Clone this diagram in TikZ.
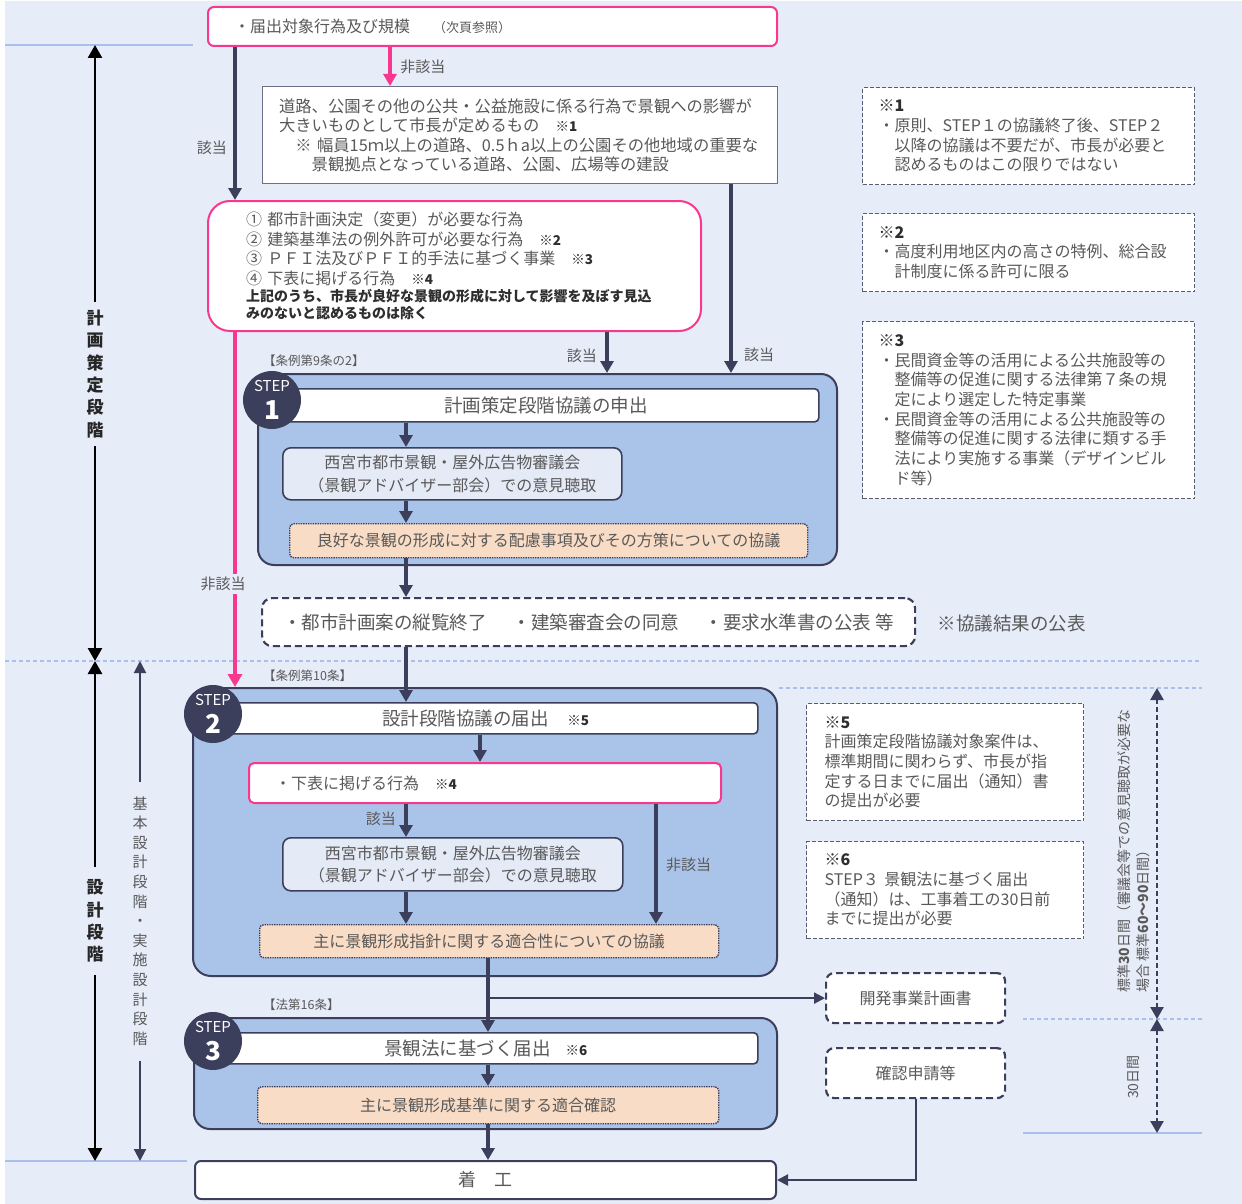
\documentclass[tikz,border=0pt]{standalone}
\usepackage{fontspec}
\setmainfont{Noto Sans CJK JP}
\usetikzlibrary{arrows.meta,positioning,calc}
\definecolor{pagebg}{HTML}{E6ECF8}
\definecolor{stepfill}{HTML}{AAC4E9}
\definecolor{navy}{HTML}{3B3F5C}
\definecolor{hotpink}{HTML}{F8388F}
\definecolor{peach}{HTML}{F9DCC5}
\definecolor{palefill}{HTML}{E4EAF6}
\definecolor{txtgray}{HTML}{595959}
\definecolor{darktext}{HTML}{2E2E2E}
\definecolor{guideblue}{HTML}{A9C1EA}
\newcommand{\fsz}[2]{\fontsize{#1}{#2}\selectfont}
\newcommand{\komeji}[1]{{\color{darktext}\fsz{13.5}{15}※\textbf{#1}}}
\newcommand{\komehead}[1]{{\color{darktext}※\textbf{#1}}}
\newcommand{\stepmark}[1]{{\fsz{15}{15}STEP}\\[8pt]{\bfseries\fsz{26}{26}#1}}
\tikzset{
  pinkbox/.style={draw=hotpink, line width=2pt, fill=white, rounded corners=6pt,
    text=txtgray, font=\fsz{16}{19.5}},
  plainbox/.style={draw=navy!75, line width=1.2pt, fill=white, text=txtgray,
    font=\fsz{16.3}{19.5}},
  stepbox/.style={draw=navy, line width=2pt, fill=stepfill, rounded corners=16pt},
  titlebox/.style={draw=navy, line width=1.6pt, fill=white, rounded corners=4pt,
    text=txtgray, font=\fsz{18.5}{20}},
  councilbox/.style={draw=navy, line width=1.6pt, fill=palefill, rounded corners=8pt,
    text=txtgray, align=center, font=\fsz{16}{22.5}},
  peachbox/.style={draw=navy, line width=1.4pt, densely dotted, fill=peach,
    rounded corners=4pt, text=txtgray, font=\fsz{16}{20}},
  stepdot/.style={circle, fill=navy, text=white, minimum size=58pt, inner sep=0pt,
    align=center},
  pubbox/.style={draw=navy, line width=2.2pt, dash pattern=on 7pt off 4pt, fill=white,
    rounded corners=10pt, text=txtgray, font=\fsz{18.5}{20}},
  docbox/.style={draw=navy, line width=2.2pt, dash pattern=on 7pt off 4pt, fill=white,
    rounded corners=8pt, text=txtgray, font=\fsz{16}{20}},
  notebox/.style={draw=navy!85, line width=1.3pt, dash pattern=on 4pt off 2pt,
    fill=white, text=txtgray, align=left, font=\fsz{16}{19.7}, anchor=north west},
  lawtag/.style={text=txtgray, font=\fsz{12.5}{14}, inner sep=0pt},
  lbl/.style={text=txtgray, font=\fsz{15}{17}},
  arr/.style={-{Triangle[length=12pt,width=13pt]}, line width=3.6pt, draw=navy},
  pinkarr/.style={arr, draw=hotpink, line width=4pt},
  pinkline/.style={-{Triangle[length=13pt,width=14pt]}, line width=4pt, draw=hotpink},
  thinarr/.style={-{Triangle[length=11pt,width=11pt]}, line width=2.2pt, draw=navy},
  stagearr/.style={{Triangle[length=13pt,width=14pt]}-{Triangle[length=13pt,width=14pt]},
    line width=2.6pt, draw=black},
  subarr/.style={{Triangle[length=12pt,width=12pt]}-{Triangle[length=12pt,width=12pt]},
    line width=2pt, draw=navy},
  spanarr/.style={{Triangle[length=12pt,width=13pt]}-{Triangle[length=12pt,width=13pt]},
    line width=2.4pt, draw=navy, dash pattern=on 5pt off 3pt},
  stagelbl/.style={fill=pagebg, text=black!85, font=\bfseries\fsz{17}{22.4},
    align=center, inner xsep=2pt},
  sublbl/.style={fill=pagebg, text=txtgray, font=\fsz{15}{19.6}, align=center,
    inner xsep=2pt},
  spanlbl/.style={text=txtgray, font=\fsz{14}{19}, align=left, inner sep=0pt},
  guide/.style={draw=guideblue, line width=1.5pt},
  guidedash/.style={guide, dash pattern=on 4pt off 3pt}
}
\begin{document}
\begin{tikzpicture}[x=1pt,y=-1pt]
  % page
  \fill[white] (0,0) rectangle (1242,1204);
  \fill[pagebg] (5,1) rectangle (1242,1204);
  \useasboundingbox (0,0) rectangle (1242,1204);
  \draw[guide] (5,45) -- (193,45);
  \draw[guidedash] (5,661) -- (1202,661);
  \draw[guidedash] (779,688) -- (1202,688);
  \draw[guide] (5,1161) -- (187,1161);
  \draw[guidedash] (1023,1019) -- (1202,1019);
  \draw[guide] (1023,1133) -- (1202,1133);

  % columns of the connectors
  \coordinate (colA) at (235,0);
  \coordinate (colB) at (390,0);
  \coordinate (colC) at (406,0);
  \coordinate (colD) at (480,0);
  \coordinate (colE) at (488,0);
  \coordinate (colF) at (607,0);
  \coordinate (colG) at (656,0);
  \coordinate (colH) at (731,0);

  % entry
  \node[pinkbox, anchor=north west, minimum width=569pt, minimum height=39pt,
    text width=517pt, inner xsep=26pt, align=left] (target) at (207,6)
    {・届出対象行為及び規模\hspace{23pt}{\fsz{13}{15}（次頁参照）}};
  \node[plainbox, anchor=north west, minimum width=515pt, minimum height=97pt,
    text width=482pt, inner xsep=16.5pt, align=left] (public) at (262,86)
    {道路、公園その他の公共・公益施設に係る行為で景観への影響が\\
     大きいものとして市長が定めるもの　\komeji{1}\\
     \hspace*{1em}※~幅員15ｍ以上の道路、0.5ｈa以上の公園その他地域の重要な\\
     \hspace*{2em}景観拠点となっている道路、公園、広場等の建設};
  \node[pinkbox, rounded corners=22pt, anchor=north west, minimum width=493pt,
    minimum height=130pt, text width=417pt, inner xsep=38pt, align=left] (kinds) at (207,200)
    {①~都市計画決定（変更）が必要な行為\\
     ②~建築基準法の例外許可が必要な行為　\komeji{2}\\
     ③~ＰＦＩ法及びＰＦＩ的手法に基づく事業　\komeji{3}\\
     ④~下表に掲げる行為　\komeji{4}\\[-2pt]
     {\bfseries\color{darktext}\fsz{14}{17}上記のうち、市長が良好な景観の形成に対して影響を及ぼす見込}\\[-3pt]
     {\bfseries\color{darktext}\fsz{14}{17}みのないと認めるものは除く}};

  % STEP 1
  \node[stepbox, anchor=north west, minimum width=579pt, minimum height=191pt] (step1) at (257,373) {};
  \node[titlebox, anchor=north west, minimum width=546pt, minimum height=33pt] (title1) at (272,388)
    {計画策定段階協議の申出};
  \node[stepdot] (dot1) at (272,400) {\stepmark{1}};
  \node[councilbox, anchor=north west, minimum width=339pt, minimum height=52pt] (council1) at (282,447)
    {西宮市都市景観・屋外広告物審議会\\（景観アドバイザー部会）での意見聴取};
  \node[peachbox, anchor=north west, minimum width=518pt, minimum height=34pt] (consult1) at (289,523)
    {良好な景観の形成に対する配慮事項及びその方策についての協議};
  \node[lawtag, anchor=west] (law1) at (263,361) {【条例第9条の2】};

  \node[pubbox, anchor=north west, minimum width=653pt, minimum height=48pt] (publish) at (261,597)
    {・都市計画案の縦覧終了\hspace{1.4em}・建築審査会の同意\hspace{1.4em}・要求水準書の公表 等};
  \node[lbl, font=\fsz{18.5}{20}, anchor=west] (pubnote) at (934,624) {※協議結果の公表};

  % STEP 2
  \node[stepbox, rounded corners=18pt, anchor=north west, minimum width=584pt, minimum height=288pt] (step2) at (192,687) {};
  \node[titlebox, anchor=north west, minimum width=544pt, minimum height=31pt] (title2) at (213,702)
    {設計段階協議の届出\hspace{1em}\komeji{5}};
  \node[stepdot] (dot2) at (213,714) {\stepmark{2}};
  \node[pinkbox, rounded corners=5pt, anchor=north west, minimum width=472pt, minimum height=40pt,
    text width=420pt, inner xsep=26pt, align=left] (listed) at (248,762)
    {・下表に掲げる行為\hspace{1em}\komeji{4}};
  \node[councilbox, anchor=north west, minimum width=340pt, minimum height=53pt] (council2) at (282,837)
    {西宮市都市景観・屋外広告物審議会\\（景観アドバイザー部会）での意見聴取};
  \node[peachbox, anchor=north west, minimum width=459pt, minimum height=33pt] (consult2) at (259,924)
    {主に景観形成指針に関する適合性についての協議};
  \node[lawtag, anchor=west] (law2) at (263,676) {【条例第10条】};

  % STEP 3
  \node[stepbox, anchor=north west, minimum width=583pt, minimum height=111pt] (step3) at (193,1017) {};
  \node[titlebox, anchor=north west, minimum width=544pt, minimum height=31pt] (title3) at (213,1032)
    {景観法に基づく届出\hspace{0.8em}\komeji{6}};
  \node[stepdot] (dot3) at (213,1041) {\stepmark{3}};
  \node[peachbox, anchor=north west, minimum width=461pt, minimum height=37pt] (consult3) at (257,1086)
    {主に景観形成基準に関する適合確認};
  \node[lawtag, anchor=west] (law3) at (263,1005) {【法第16条】};

  \node[plainbox, draw=navy, line width=2pt, rounded corners=6pt, anchor=north west,
    minimum width=581pt, minimum height=38pt, font=\fsz{18}{20}] (start) at (194,1160) {着　工};
  \node[docbox, anchor=north west, minimum width=179pt, minimum height=50pt] (devplan) at (825,972) {開発事業計画書};
  \node[docbox, anchor=north west, minimum width=179pt, minimum height=50pt] (confirm) at (825,1047) {確認申請等};

  % notes
  \node[notebox, minimum width=332pt, minimum height=97pt, text width=300pt, inner xsep=16pt] (note1) at (862,87)
    {\komehead{1}\\
     ・原則、STEP１の協議終了後、STEP２\\
     \hspace*{1em}以降の協議は不要だが、市長が必要と\\
     \hspace*{1em}認めるものはこの限りではない};
  \node[notebox, minimum width=332pt, minimum height=78pt, text width=300pt, inner xsep=16pt] (note2) at (862,213)
    {\komehead{2}\\
     ・高度利用地区内の高さの特例、総合設\\
     \hspace*{1em}計制度に係る許可に限る};
  \node[notebox, minimum width=332pt, minimum height=177pt, text width=300pt, inner xsep=16pt] (note3) at (862,321)
    {\komehead{3}\\
     ・民間資金等の活用による公共施設等の\\
     \hspace*{1em}整備等の促進に関する法律第７条の規\\
     \hspace*{1em}定により選定した特定事業\\
     ・民間資金等の活用による公共施設等の\\
     \hspace*{1em}整備等の促進に関する法律に類する手\\
     \hspace*{1em}法により実施する事業（デザインビル\\
     \hspace*{1em}ド等）};
  \node[notebox, minimum width=277pt, minimum height=117pt, text width=241pt, inner xsep=18pt] (note5) at (806,703)
    {\komehead{5}\\
     計画策定段階協議対象案件は、\\
     標準期間に関わらず、市長が指\\
     定する日までに届出（通知）書\\
     の提出が必要};
  \node[notebox, minimum width=277pt, minimum height=97pt, text width=241pt, inner xsep=18pt] (note6) at (806,841)
    {\komehead{6}\\
     STEP３~景観法に基づく届出\\
     （通知）は、工事着工の30日前\\
     までに提出が必要};

  % stages
  \coordinate (planTop) at (95,45);
  \coordinate (phaseLine) at (95,661);
  \coordinate (designBot) at (95,1161);
  \coordinate (subTop) at (140,661);
  \coordinate (subBot) at (140,1161);
  \draw[stagearr] (planTop) -- node[stagelbl, pos=0.534, inner ysep=8pt] {計\\画\\策\\定\\段\\階} (phaseLine);
  \draw[stagearr] (phaseLine) -- node[stagelbl, pos=0.52, inner ysep=13pt] {設\\計\\段\\階} (designBot);
  \draw[subarr] (subTop) -- node[sublbl, pos=0.52, inner ysep=15pt]
    {基\\本\\設\\計\\段\\階\\・\\実\\施\\設\\計\\段\\階} (subBot);

  \coordinate (spanTop) at (1157,688);
  \coordinate (spanMid) at (1157,1019);
  \coordinate (spanBot) at (1157,1133);
  \draw[spanarr] (spanTop) -- (spanMid);
  \draw[spanarr] (spanMid) -- (spanBot);
  \node[spanlbl, rotate=90] (span1) at (1134,851)
    {標準\textbf{30}日間（審議会等での意見聴取が必要な\\場合~標準\textbf{60～90}日間）};
  \node[spanlbl, rotate=90] (span2) at (1133,1077) {30日間};

  % connectors
  \draw[pinkarr] (target.south -| colB) -- node[lbl, right=5pt] {非該当} (public.north -| colB);
  \draw[arr] (target.south -| colA) -- node[lbl, left=3pt, pos=0.66] {該当} (kinds.north -| colA);
  \draw[arr] (public.south -| colH) -- node[lbl, right=8pt, pos=0.905] {該当} (step1.north -| colH);
  \draw[arr] (kinds.south -| colF) -- node[lbl, left=5pt, pos=0.57] {該当} (step1.north -| colF);
  \draw[pinkline] (kinds.south -| colA) -- node[lbl, fill=pagebg, pos=0.71, xshift=-12pt] {非該当} (step2.north -| colA);
  \draw[arr] (title1.south -| colC) -- (council1.north -| colC);
  \draw[arr] (council1.south -| colC) -- (consult1.north -| colC);
  \draw[arr] (consult1.south -| colC) -- (publish.north -| colC);
  \draw[arr] (publish.south -| colC) -- (title2.north -| colC);
  \draw[arr] (title2.south -| colD) -- (listed.north -| colD);
  \draw[arr] (listed.south -| colC) -- node[lbl, left=5pt, pos=0.45] {該当} (council2.north -| colC);
  \draw[arr] (council2.south -| colC) -- (consult2.north -| colC);
  \draw[arr] (listed.south -| colG) -- node[lbl, right=5pt, pos=0.51] {非該当} (consult2.north -| colG);
  \draw[arr] (consult2.south -| colE) -- (title3.north -| colE);
  \draw[thinarr] (devplan.west -| colE) -- (devplan.west);
  \draw[arr] (title3.south -| colE) -- (consult3.north -| colE);
  \draw[arr] (consult3.south -| colE) -- (start.north -| colE);
  \draw[thinarr] (confirm.south) |- (start.east);
\end{tikzpicture}
\end{document}
